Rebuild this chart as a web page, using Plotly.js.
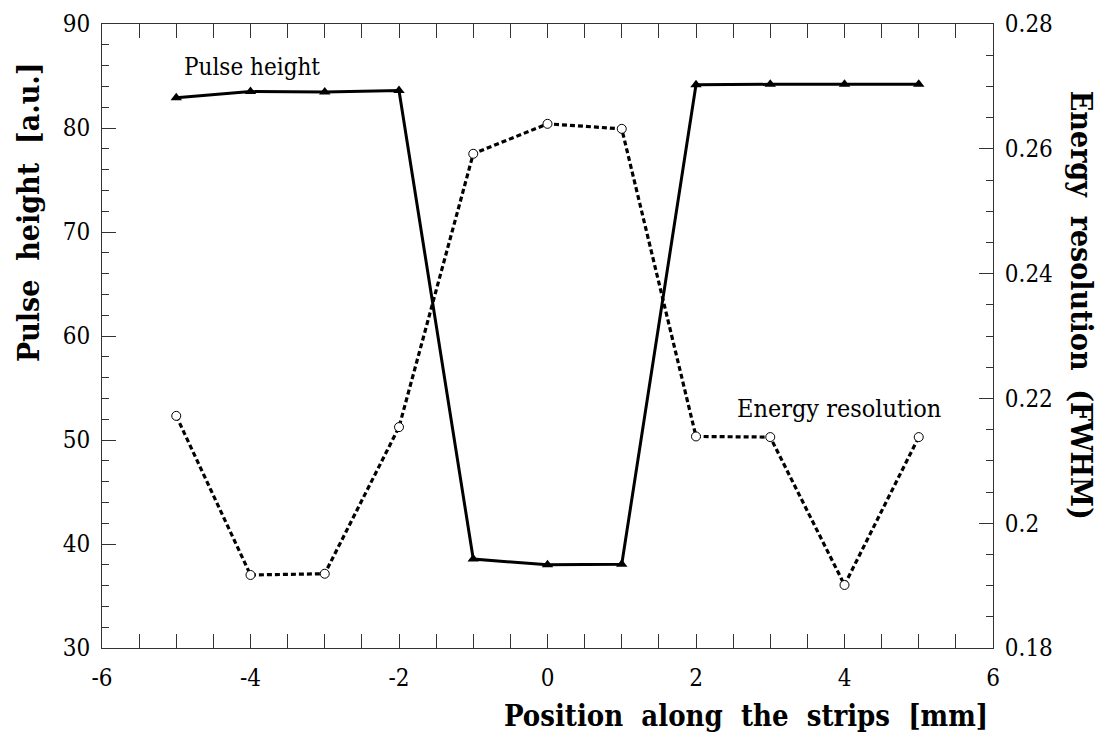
<!DOCTYPE html>
<html>
<head>
<meta charset="utf-8">
<script src="https://cdn.plot.ly/plotly-3.0.1.min.js"></script>
<style>html,body{margin:0;padding:0;background:#fff;}#chart{width:1103px;height:738px;}</style>
</head>
<body>
<div id="chart"></div>
<script>
const positions = [-5, -4, -3, -2, -1, 0, 1, 2, 3, 4, 5];
const pulseHeight = [82.9, 83.5, 83.45, 83.6, 38.55, 38.0, 38.05, 84.15, 84.2, 84.2, 84.2];
const energyResolution = [0.2172, 0.1917, 0.1919, 0.2154, 0.2592, 0.2640, 0.2632, 0.2139, 0.2138, 0.1901, 0.2138];
const xTickVals = [-6, -4, -2, 0, 2, 4, 6];
const xTickText = ['-6', '-4', '-2', '0', '2', '4', '6'];
const yTickVals = [30, 40, 50, 60, 70, 80, 90];
const y2TickVals = [0.18, 0.2, 0.22, 0.24, 0.26, 0.28];
const y2TickText = ['0.18', '0.2', '0.22', '0.24', '0.26', '0.28'];

const serif = '"DejaVu Serif Condensed", "DejaVu Serif", serif';
const axisCol = '#333';
const tickSize = 24;

const traces = [
  {
    x: positions, y: pulseHeight, yaxis: 'y', type: 'scatter', mode: 'lines+markers',
    line: {color: '#000', width: 3},
    marker: {symbol: 'triangle-up', size: 10, color: '#000'},
    hoverinfo: 'skip'
  },
  {
    x: positions, y: energyResolution, yaxis: 'y2', type: 'scatter', mode: 'lines+markers',
    line: {color: '#000', width: 3.2, dash: '5px,3px'},
    marker: {symbol: 'circle', size: 9, color: '#fff', line: {color: '#000', width: 1}},
    hoverinfo: 'skip'
  }
];

const layout = {
  width: 1103, height: 738,
  margin: {l: 102, r: 110, t: 24, b: 90},
  paper_bgcolor: '#fff', plot_bgcolor: '#fff',
  showlegend: false,
  font: {family: serif, size: tickSize, color: '#000'},
  xaxis: {
    range: [-6, 6], tickmode: 'array', tickvals: xTickVals, ticktext: xTickText,
    showgrid: false, zeroline: false, showline: true, linecolor: axisCol, linewidth: 1,
    mirror: 'allticks', ticks: 'inside', ticklen: 14, tickcolor: axisCol, tickwidth: 1,
    minor: {dtick: 0.5, tick0: -6, ticks: 'inside', ticklen: 7, tickcolor: axisCol, tickwidth: 1, showgrid: false},
    tickfont: {family: serif, size: tickSize, color: '#000'}, ticklabelstandoff: 8
  },
  yaxis: {
    range: [30, 90], tickmode: 'array', tickvals: yTickVals,
    showgrid: false, zeroline: false, showline: true, linecolor: axisCol, linewidth: 1,
    ticks: 'inside', ticklen: 14, tickcolor: axisCol, tickwidth: 1,
    minor: {dtick: 2, tick0: 30, ticks: 'inside', ticklen: 7, tickcolor: axisCol, tickwidth: 1, showgrid: false},
    tickfont: {family: serif, size: tickSize, color: '#000'}, ticklabelstandoff: 6
  },
  yaxis2: {
    range: [0.18, 0.28], overlaying: 'y', side: 'right', tickmode: 'array', tickvals: y2TickVals, ticktext: y2TickText,
    showgrid: false, zeroline: false, showline: true, linecolor: axisCol, linewidth: 1,
    ticks: 'inside', ticklen: 14, tickcolor: axisCol, tickwidth: 1,
    minor: {dtick: 0.005, tick0: 0.18, ticks: 'inside', ticklen: 7, tickcolor: axisCol, tickwidth: 1, showgrid: false},
    tickfont: {family: serif, size: tickSize, color: '#000'}, ticklabelstandoff: 6
  },
  annotations: [
    {text: 'Pulse height', x: -4.92, y: 85.9, xref: 'x', yref: 'y', xanchor: 'left', yanchor: 'middle', showarrow: false,
     font: {family: serif, size: 24, color: '#000'}},
    {text: 'Energy resolution', x: 2.52, y: 53.0, xref: 'x', yref: 'y', xanchor: 'left', yanchor: 'middle', showarrow: false,
     font: {family: serif, size: 25, color: '#000'}},
    {text: 'Pulse\u00A0 height\u00A0 [a.u.]', x: -0.0816, y: 0.699, xref: 'paper', yref: 'paper', xanchor: 'center', yanchor: 'middle',
     textangle: -90, showarrow: false, font: {family: serif, size: 30, color: '#000', weight: 'bold'}},
    {text: 'Energy\u00A0 resolution\u00A0 (FWHM)', x: 1.0988, y: 0.55, xref: 'paper', yref: 'paper', xanchor: 'center', yanchor: 'middle',
     textangle: 90, showarrow: false, font: {family: serif, size: 30, color: '#000', weight: 'bold'}},
    {text: 'Position\u00A0 along\u00A0 the\u00A0 strips\u00A0 [mm]', x: 0.9966, y: -0.1085, xref: 'paper', yref: 'paper', xanchor: 'right', yanchor: 'middle',
     showarrow: false, font: {family: serif, size: 29, color: '#000', weight: 'bold'}}
  ]
};

Plotly.newPlot('chart', traces, layout, {displayModeBar: false, staticPlot: true});
</script>
</body>
</html>
